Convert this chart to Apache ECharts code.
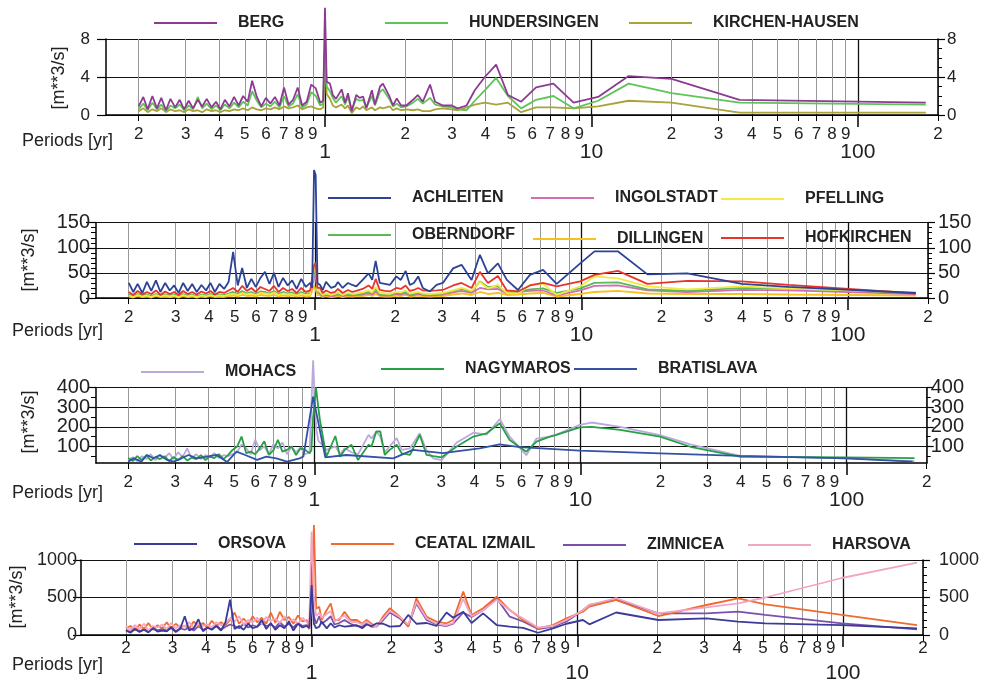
<!DOCTYPE html>
<html><head><meta charset="utf-8">
<script src="https://cdn.jsdelivr.net/npm/echarts@6/dist/echarts.min.js"></script>
<style>html,body{margin:0;padding:0;background:#fff}#c{width:982px;height:684px}</style>
</head><body><div id="c"></div>
<script>
// ---------- tick labels ----------
const minorTicks = [0.2,0.3,0.4,0.5,0.6,0.7,0.8,0.9,2,3,4,5,6,7,8,9,20,30,40,50,60,70,80,90,200];
const decadeTicks = [1,10,100];
const yMajor1 = [0,4,8],            yMinor1 = [1,2,3,5,6,7];
const yMajor2 = [0,50,100,150],     yMinor2 = [10,20,30,40,60,70,80,90,110,120,130,140];
const yMajor3 = [100,200,300,400],  yMinor3 = [50,150,250,350];
const yMajor4 = [0,500,1000],       yMinor4 = [100,200,300,400,600,700,800,900];

// ---------- periods (years) ----------
const periodsDense = [0.200,0.208,0.216,0.225,0.234,0.243,0.253,0.263,0.274,0.285,0.296,0.308,0.320,0.333,0.346,0.360,0.375,0.390,0.405,0.421,0.438,0.456,0.474,0.493,0.513,0.533,0.555,0.577,0.600,0.624,0.649,0.675,0.702,0.730,0.759,0.790,0.821,0.854,0.888,0.924,0.960];
const periodsLong1 = [0.985,1.0,1.015,1.044,1.07,1.10,1.155,1.19,1.22,1.26,1.31,1.35,1.39,1.43,1.50,1.54,1.61,1.65,1.75,1.80,1.86,1.93,2.02,2.14,2.23,2.33,2.48,2.59,2.77,2.99,3.15,3.4,3.65,3.98,4.39,4.86,5.45,6.2,7.2,8.57,10.6,13.8,20,36,180];
const periodsLong2 = [0.976,0.992,1.006,1.022,1.045,1.07,1.1,1.15,1.19,1.22,1.27,1.33,1.38,1.43,1.51,1.59,1.64,1.69,1.75,1.83,1.91,2.02,2.10,2.19,2.27,2.35,2.44,2.54,2.70,2.86,3.02,3.3,3.55,3.87,4.16,4.46,4.86,5.25,5.78,6.41,7.18,8.08,9.9,11.2,13.7,17.7,25,40,60,180];
const periodsLong3 = [0.975,0.99,1.015,1.035,1.05,1.11,1.2,1.25,1.30,1.38,1.46,1.6,1.64,1.71,1.77,1.84,1.92,2.04,2.13,2.29,2.49,2.64,2.8,3.01,3.43,3.96,4.44,4.98,5.42,6.26,6.84,7.67,8.12,9.94,11.0,14.1,19.9,25.9,39.7,99.5,180];
const periodsLong4 = [0.98,1.0,1.02,1.04,1.068,1.09,1.14,1.18,1.22,1.27,1.33,1.40,1.48,1.55,1.61,1.68,1.76,1.86,1.97,2.15,2.31,2.48,2.71,2.95,3.22,3.41,3.72,4.0,4.42,4.97,5.57,6.25,7.12,8.1,9.1,10.5,11.1,14.0,20.2,30.6,40.3,51,99,190];
const periodsBratislava = [0.2,0.21,0.224,0.235,0.249,0.263,0.279,0.296,0.317,0.337,0.362,0.395,0.43,0.47,0.51,0.55,0.61,0.66,0.72,0.79,0.88,0.91,0.99,1.1,1.32,1.98,2.35,3.04,4.18,4.97,5.92,9.96,19.9,39.7,99.5,177];

// ---------- panel 1 values [m**3/s] ----------
const berg = [0.9,1.9,0.6,2.0,0.7,1.8,0.5,1.7,0.8,1.6,0.6,1.5,0.7,1.6,0.9,1.7,0.8,1.4,0.6,1.6,0.9,1.9,1.0,2.0,1.4,3.6,1.9,0.9,1.8,1.2,1.9,1.0,2.9,1.1,1.6,2.9,1.0,1.4,3.2,2.8,1.3,
 1.5,11.3,3.5,
 3.3,2.1,1.7,2.7,1.3,2.3,0.4,2.1,1.8,1.95,0.7,2.6,1.1,3.0,3.3,1.9,1.0,1.75,1.0,1.0,1.6,2.1,1.4,3.2,1.4,1.0,1.0,0.7,1.0,2.6,4.0,
 5.3,2.1,1.4,2.9,3.3,1.3,1.9,4.1,3.8,1.6,1.3];
const hundersingen = [0.6,1.2,0.5,1.3,0.6,1.1,0.4,1.0,0.7,1.1,0.5,1.0,0.6,1.9,0.7,1.2,0.6,1.0,0.5,1.1,0.7,1.3,0.8,1.4,1.0,2.5,1.5,0.8,1.2,0.9,1.4,0.8,2.0,0.9,1.2,2.2,0.8,1.1,2.4,2.0,1.0,
 1.2,7.6,3.0,
 2.5,1.8,1.3,2.0,1.1,1.9,0.5,1.7,1.5,1.6,0.8,2.0,1.0,2.45,2.7,1.6,0.9,1.2,0.8,0.9,1.3,1.7,1.2,1.8,1.1,0.9,0.8,0.6,0.5,1.5,2.6,
 3.9,2.0,0.7,1.6,2.0,0.7,1.5,3.3,2.3,1.3,1.1];
const kirchenHausen = [0.4,0.7,0.3,0.6,0.4,0.7,0.3,0.6,0.4,0.5,0.3,0.6,0.4,0.5,0.3,0.6,0.4,0.5,0.3,0.5,0.4,0.6,0.5,0.7,0.5,0.8,0.6,0.5,0.7,0.6,0.8,0.6,0.9,0.7,0.8,1.0,0.6,0.8,0.9,0.7,0.6,
 0.8,6.5,2.2,
 1.7,1.0,0.8,1.1,0.7,1.0,0.2,0.8,0.6,0.9,0.5,0.8,0.5,0.8,0.7,0.9,0.5,0.7,0.5,0.6,0.5,0.6,0.4,0.4,0.6,0.7,0.6,0.5,0.8,1.1,1.3,
 1.1,1.3,0.3,0.8,0.8,0.7,0.9,1.5,1.3,0.25,0.25];

// ---------- panel 2 values ----------
const achleiten = [30,12,28,10,32,14,35,12,30,15,25,10,30,14,28,12,26,15,30,12,28,18,32,92,25,60,20,38,22,40,52,28,50,22,40,25,35,18,38,22,30,
 20,255,245,30,
 26,16,32,20,23,32,20,30,26,23,36,49,36,74,30,28,26,43,36,54,26,30,43,20,13,26,30,59,66,36,86,49,69,36,16,46,56,28,69,93,93,47,49,28,22,10];
const hofkirchen = [12,6,14,7,12,8,15,6,13,8,12,6,14,8,12,7,13,9,14,7,12,10,15,20,12,24,14,20,12,22,18,14,24,12,20,14,18,10,20,12,15,
 12,65,70,20,
 20,10,15,10,12,18,10,16,12,14,18,25,18,38,16,14,13,20,18,25,14,16,20,15,14,15,16,25,30,20,52,30,44,15,13,25,30,23,33,46,54,28,34,33,26,9];
const ingolstadt = [6,3,7,4,6,3,7,4,6,4,6,3,7,4,6,3,6,4,7,4,6,5,8,10,7,12,8,10,7,11,10,8,12,7,10,8,9,6,10,7,8,
 8,40,45,12,
 8,4,6,4,5,7,4,6,5,6,7,9,7,13,6,5,5,8,7,9,5,6,8,6,5,6,7,11,14,10,20,17,18,9,12,14,15,5,15,24,25,15,12,16,15,8];
const pfelling = [5,2,6,3,5,2,6,3,5,3,5,2,6,3,5,2,5,3,6,3,5,4,7,8,6,10,7,9,6,10,9,7,11,6,9,7,8,5,9,6,7,
 8,60,70,15,
 12,6,9,6,8,11,6,10,8,9,11,15,11,22,10,9,8,12,11,15,9,10,12,9,8,9,10,15,20,14,32,19,26,10,9,26,28,6,23,43,39,23,17,23,19,11];
const oberndorf = [7,4,8,5,7,4,8,5,7,5,7,4,8,5,7,4,7,5,8,5,7,6,9,12,8,14,9,12,8,13,12,9,14,8,12,9,11,7,12,8,10,
 10,50,55,15,
 10,5,8,5,7,9,5,8,7,8,9,12,9,18,8,7,7,10,9,12,7,8,10,8,7,8,9,14,18,12,33,22,23,11,13,17,19,10,19,30,31,17,14,20,19,10];
const dillingen = [3,1,4,2,3,1,4,2,3,2,3,1,4,2,3,1,3,2,4,2,3,2,4,5,3,6,4,5,3,6,5,4,6,3,5,4,5,3,5,3,4,
 4,25,25,6,
 5,2,4,2,3,4,2,4,3,4,4,6,4,8,4,3,3,5,4,6,3,4,5,4,3,4,4,7,9,6,12,8,10,6,7,9,10,3,8,12,14,9,8,8,7,5];

// ---------- panel 3 values ----------
const mohacs = [30,45,25,50,35,60,30,55,40,65,35,70,45,90,40,60,35,55,45,65,40,55,50,60,70,110,90,60,135,80,100,60,110,90,120,60,100,70,95,60,70,
 70,540,200,130,
 124,82,100,60,90,70,60,159,140,176,150,70,100,142,82,90,167,80,39,30,120,170,160,240,150,55,140,150,160,210,222,200,158,110,51,39,25];
const nagymaros = [40,25,50,30,55,28,45,35,50,25,45,30,50,28,42,35,55,30,48,40,60,35,55,82,99,150,65,73,60,90,126,56,80,133,73,82,99,56,90,82,65,
 80,250,400,300,
 235,47,153,47,82,108,30,108,99,176,176,56,82,108,64,56,159,56,50,44,99,150,167,218,133,73,124,150,159,197,200,184,150,98,47,44,40];
const bratislava = [22,39,22,56,39,56,31,22,39,56,39,48,56,20,73,56,31,48,39,22,39,48,354,44,56,39,82,65,90,110,96,78,64,51,39,22];

// ---------- panel 4 values ----------
const orsova = [60,30,80,40,70,35,90,45,60,50,100,40,80,250,60,90,210,50,100,70,120,60,170,470,80,120,70,150,90,110,200,80,160,70,130,90,180,60,150,100,120,
 100,667,150,90,
 110,178,89,156,100,130,111,120,130,90,140,120,156,150,111,120,267,150,160,120,300,230,310,160,289,133,111,95,30,89,150,200,142,300,200,222,178,156,133,89];
const ceatalIzmail = [90,120,60,140,80,160,70,130,90,170,80,150,100,120,90,180,110,160,100,190,120,170,130,200,300,150,220,140,250,170,230,150,300,160,310,200,240,150,260,180,200,
 90,400,1467,350,
 378,200,333,422,200,200,311,200,200,150,200,150,111,250,356,244,111,489,244,178,156,200,578,267,356,511,333,200,89,133,222,311,378,467,253,400,489,409,267,133];
const zimnicea = [70,40,90,50,80,45,100,60,85,55,110,50,90,70,100,60,120,70,95,80,130,70,110,140,120,90,150,100,130,110,160,120,140,100,170,110,150,100,160,120,130,
 80,600,250,150,
 250,150,200,250,140,160,200,150,120,110,150,110,120,200,300,220,120,420,200,140,120,150,300,240,330,489,244,180,80,111,180,330,400,467,289,289,311,267,156,76];
const harsova = [110,70,130,80,150,60,120,100,140,80,160,90,130,110,170,90,150,120,140,100,170,130,160,220,180,250,140,200,170,230,150,240,190,220,160,250,180,210,150,230,170,
 150,1378,500,250,
 300,230,280,320,180,220,260,180,170,140,180,130,120,220,320,240,140,440,220,150,130,160,480,250,330,470,330,220,100,120,200,330,400,493,289,369,422,500,760,964];

// ---------- build ----------
const FONT = '"Liberation Sans", Arial, Helvetica, sans-serif';
const TXT = '#222';
function zip(xs, ys){ return ys.map((y,i)=>[xs[i], y]); }
function digit(v){ const e = Math.floor(Math.log10(v) + 1e-9); return String(Math.round(v/Math.pow(10,e))); }

const p1 = periodsDense.concat(periodsLong1);
const p2 = periodsDense.concat(periodsLong2);
const p3 = periodsDense.concat(periodsLong3);
const p4 = periodsDense.concat(periodsLong4);

const panels = [
 {box:{left:106, top:39, width:832, height:76}, xmin:0.1507, xmax:200, ymin:0, ymax:8, major:yMajor1, minor:yMinor1, yFont:17, lMargin:16, rMargin:9, lTick:9, lMinor:false, sm:11, dm:27,
  series:[['KIRCHEN-HAUSEN','#aaa23a',p1,kirchenHausen],['HUNDERSINGEN','#5ec45a',p1,hundersingen],['BERG','#8e3a92',p1,berg]]},
 {box:{left:96, top:222.7, width:832, height:75.3}, xmin:0.1507, xmax:200, ymin:0, ymax:150, major:yMajor2, minor:yMinor2, yFont:20, lMargin:6, rMargin:10, lTick:10, lMinor:true, sm:11, dm:27,
  series:[['DILLINGEN','#f6c21c',p2,dillingen],['INGOLSTADT','#d46cb4',p2,ingolstadt],['OBERNDORF','#5cb85c',p2,oberndorf],['PFELLING','#f2ea40',p2,pfelling],['HOFKIRCHEN','#e8342c',p2,hofkirchen],['ACHLEITEN','#2c4396',p2,achleiten]]},
 {box:{left:96, top:387.7, width:830.7, height:75.3}, xmin:0.1513, xmax:200, ymin:15, ymax:400, major:yMajor3, minor:yMinor3, yFont:20, lMargin:6, rMargin:4, lTick:8, lMinor:true, sm:11, dm:27,
  series:[['MOHACS','#bba9dc',p3,mohacs],['NAGYMAROS','#26a045',p3,nagymaros],['BRATISLAVA','#3352a6',periodsBratislava,bratislava]]},
 {box:{left:81, top:560, width:843, height:75}, xmin:0.1355, xmax:200, ymin:0, ymax:1000, major:yMajor4, minor:yMinor4, yFont:18, lMargin:4, rMargin:16, lTick:8, lMinor:false, sm:5, dm:28,
  series:[['ZIMNICEA','#7b4fab',p4,zimnicea],['CEATAL IZMAIL','#f26a2e',p4,ceatalIzmail],['HARSOVA','#f2a6c6',p4,harsova],['ORSOVA','#3b3b99',p4,orsova]]}
];

const legendLayout = [
 ['BERG',153,22],['HUNDERSINGEN',384,22],['KIRCHEN-HAUSEN',628,22],
 ['ACHLEITEN',327,197],['INGOLSTADT',530,197],['PFELLING',720,198],
 ['OBERNDORF',327,234],['DILLINGEN',532,238],['HOFKIRCHEN',720,237],
 ['MOHACS',140,371],['NAGYMAROS',380,368],['BRATISLAVA',573,368],
 ['ORSOVA',133,543],['CEATAL IZMAIL',330,543],['ZIMNICEA',562,544],['HARSOVA',747,544]
];
const titleLayout = [
 {px:22, py:141, mx:59, my:78},
 {px:12, py:331, mx:29, my:260},
 {px:12, py:493, mx:29, my:422},
 {px:12, py:665, mx:17, my:597}
];

const grid=[], xAxis=[], yAxis=[], series=[], legend=[], graphic=[];
panels.forEach((P,i)=>{
  grid.push(Object.assign({containLabel:false}, P.box));
  xAxis.push({type:'log', logBase:10, gridIndex:i, min:P.xmin, max:P.xmax,
    axisLine:{show:true, lineStyle:{color:'#000', width:1.5}},
    axisTick:{show:true, customValues:minorTicks, length:6, lineStyle:{color:'#000', width:1}},
    axisLabel:{show:true, customValues:minorTicks, formatter:v=>digit(v), fontSize:17, color:TXT, fontFamily:FONT, margin:P.sm, showMinLabel:true, showMaxLabel:true, hideOverlap:false},
    splitLine:{show:true, lineStyle:{color:'#999', width:1}}, minorTick:{show:false}, minorSplitLine:{show:false}});
  xAxis.push({type:'log', logBase:10, gridIndex:i, min:P.xmin, max:P.xmax, position:'bottom',
    axisLine:{show:false},
    axisTick:{show:true, customValues:decadeTicks, length:12, lineStyle:{color:'#000', width:1.5}},
    axisLabel:{show:true, customValues:decadeTicks, formatter:v=>String(Math.round(v)), fontSize:21, color:TXT, fontFamily:FONT, margin:P.dm, showMinLabel:true, showMaxLabel:true},
    splitLine:{show:true, lineStyle:{color:'#111', width:1.3}}});
  const yBase = {type:'value', gridIndex:i, min:P.ymin, max:P.ymax};
  const labA = P.major.filter((_,k)=>k%2===0);
  const labB = P.major.filter((_,k)=>k%2===1);
  const yLab = {show:true, formatter:v=>String(Math.round(v)), fontSize:P.yFont, color:TXT, fontFamily:FONT, showMinLabel:true, showMaxLabel:true, hideOverlap:false};
  // left: major ticks + grid + labels (even)
  yAxis.push(Object.assign({}, yBase, {position:'left',
    axisLine:{show:true, lineStyle:{color:'#000', width:1.5}},
    axisTick:{show:true, customValues:P.major, length:P.lTick, lineStyle:{color:'#000', width:1.2}},
    axisLabel:Object.assign({}, yLab, {customValues:labA, margin:P.lMargin}),
    splitLine:{show:true, lineStyle:{color:'#111', width:1}}}));
  // left: minor ticks + labels (odd)
  yAxis.push(Object.assign({}, yBase, {position:'left',
    axisLine:{show:false},
    axisTick:{show:P.lMinor, customValues:P.minor, length:5, lineStyle:{color:'#000', width:1}},
    axisLabel:Object.assign({}, yLab, {customValues:labB, margin:P.lMargin}), splitLine:{show:false}}));
  // right: major ticks + labels (even)
  yAxis.push(Object.assign({}, yBase, {position:'right',
    axisLine:{show:true, lineStyle:{color:'#000', width:1.5}},
    axisTick:{show:true, customValues:P.major, length:7, lineStyle:{color:'#000', width:1.2}},
    axisLabel:Object.assign({}, yLab, {customValues:labA, margin:P.rMargin}),
    splitLine:{show:false}}));
  // right: minor ticks + labels (odd)
  yAxis.push(Object.assign({}, yBase, {position:'right',
    axisLine:{show:false},
    axisTick:{show:true, customValues:P.minor, length:4, lineStyle:{color:'#000', width:1}},
    axisLabel:Object.assign({}, yLab, {customValues:labB, margin:P.rMargin}), splitLine:{show:false}}));
  P.series.forEach(s=>{
    series.push({type:'line', name:s[0], xAxisIndex:2*i, yAxisIndex:4*i, data:zip(s[2], s[3]),
      symbol:'none', showSymbol:false, clip:false, animation:false,
      lineStyle:{width:1.8, color:s[1]}, itemStyle:{color:s[1]}, emphasis:{disabled:true}});
  });
  const T = titleLayout[i];
  graphic.push({type:'text', x:T.px, y:T.py, style:{text:'Periods [yr]', font:'18px '+FONT, fill:TXT, verticalAlign:'middle'}});
  graphic.push({type:'text', x:T.mx, y:T.my, rotation:Math.PI/2, style:{text:'[m**3/s]', font:'18px '+FONT, fill:TXT, align:'center', verticalAlign:'middle'}});
});
legendLayout.forEach(L=>{
  legend.push({data:[L[0]], left:L[1], top:L[2]-7, padding:0, itemWidth:63, itemHeight:14, selectedMode:false,
    itemStyle:{opacity:0}, lineStyle:{width:2},
    textStyle:{fontSize:16, fontWeight:'bold', color:TXT, fontFamily:FONT, padding:[0,0,0,16]}});
});

const chart = echarts.init(document.getElementById('c'), null, {renderer:'canvas'});
chart.setOption({animation:false, backgroundColor:'#fff', grid, xAxis, yAxis, series, legend, graphic});
</script></body></html>
